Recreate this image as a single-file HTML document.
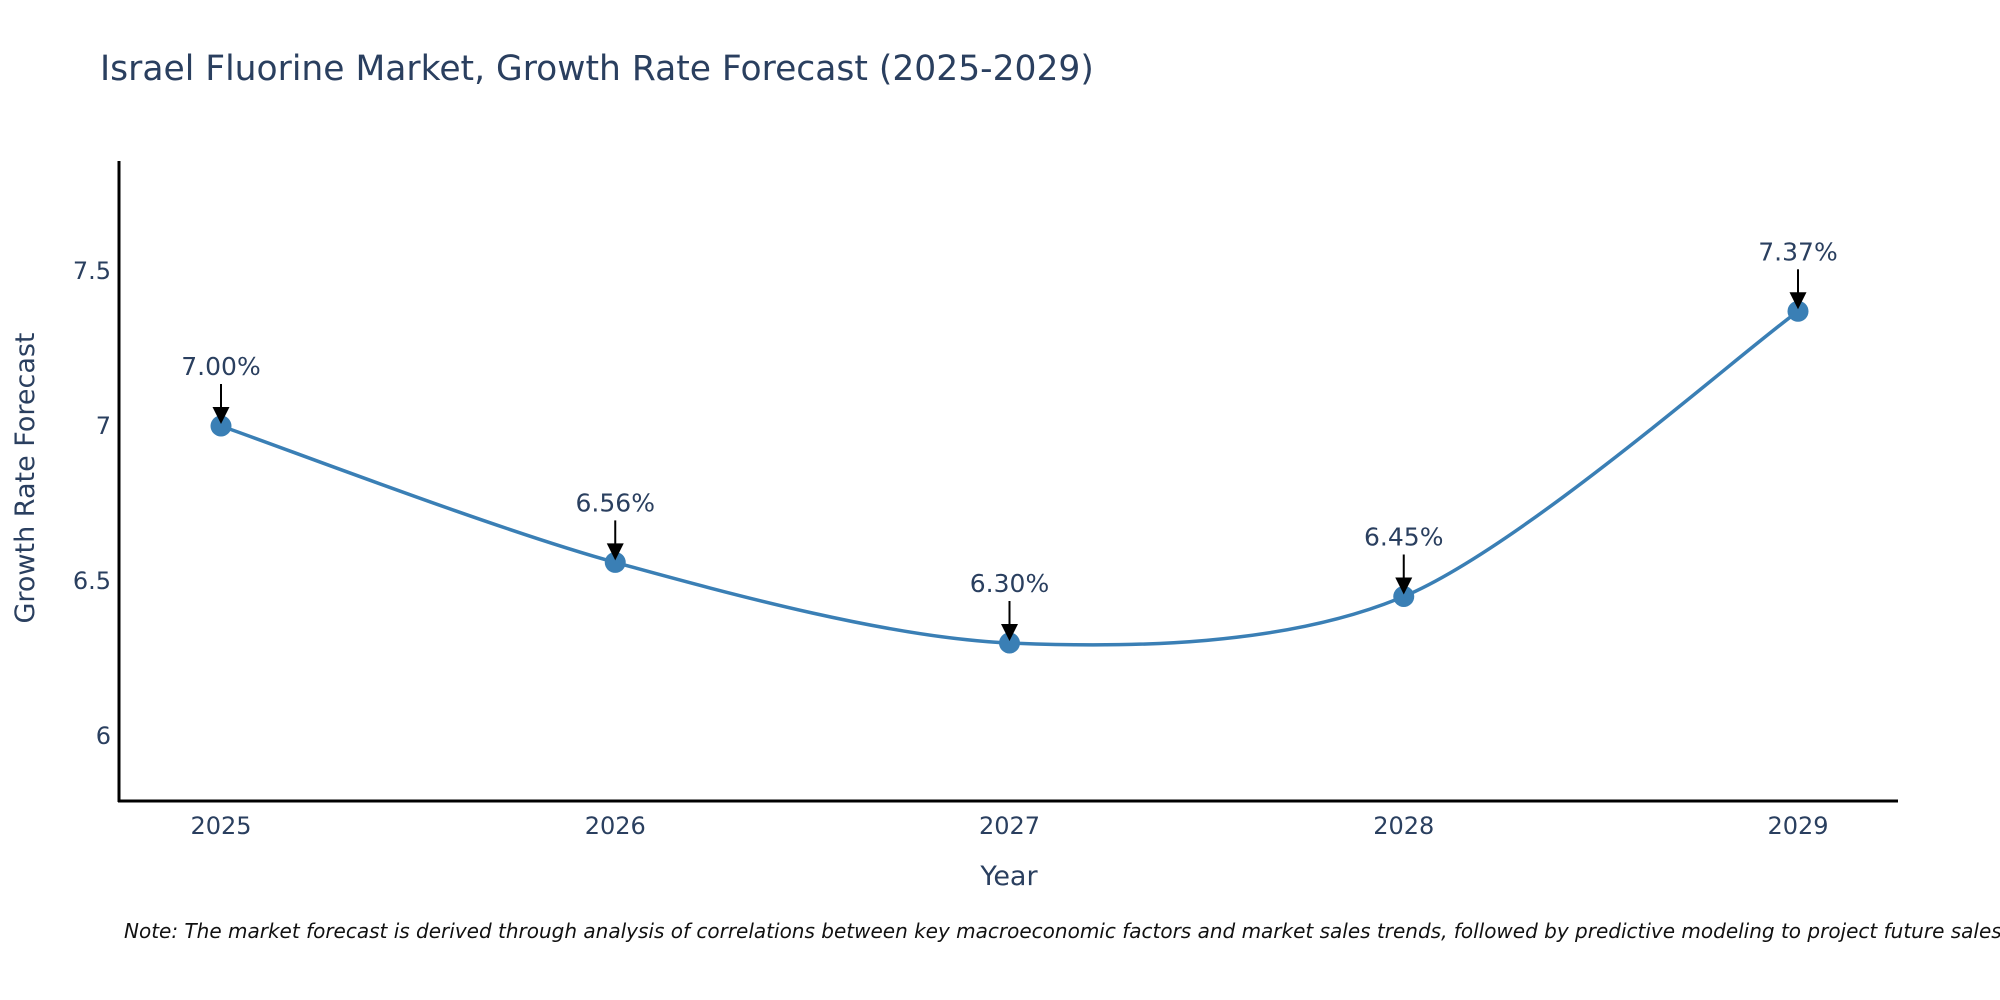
<!DOCTYPE html>
<html><head><meta charset="utf-8"><style>
html,body{margin:0;padding:0;background:#fff;width:2000px;height:1000px;overflow:hidden}
text{font-family:"DejaVu Sans","Liberation Sans",sans-serif;fill:#2a3f5f}
</style></head><body>
<svg id="chart" width="2000" height="1000" xmlns="http://www.w3.org/2000/svg">
<text x="100" y="80" font-size="34.5">Israel Fluorine Market, Growth Rate Forecast (2025-2029)</text>
<g id="yticks"></g>
<g id="xticks"></g>
<line x1="119" y1="161" x2="119" y2="802" stroke="#000" stroke-width="3"/>
<line x1="118" y1="801" x2="1898" y2="801" stroke="#000" stroke-width="3"/>
<path id="series" fill="none" stroke="#3a7fb5" stroke-width="3.5"/>
<g id="points"></g>
<g id="annots"></g>
<text x="1009" y="885" font-size="27" text-anchor="middle">Year</text>
<text transform="translate(34,478) rotate(-90)" font-size="27" text-anchor="middle">Growth Rate Forecast</text>
<text x="124" y="938" font-size="20" font-style="italic" style="fill:#111">Note: The market forecast is derived through analysis of correlations between key macroeconomic factors and market sales trends, followed by predictive modeling to project future sales.</text>
</svg>
<script>
const years = [2025, 2026, 2027, 2028, 2029];
const rates = [7.00, 6.56, 6.30, 6.45, 7.37];
const labels = ["7.00%", "6.56%", "6.30%", "6.45%", "7.37%"];
const yTicks = [6, 6.5, 7, 7.5];
const yTickLabels = ["6", "6.5", "7", "7.5"];

const NS = "http://www.w3.org/2000/svg";
const x = v => 221 + (v - 2025) * 394.25;
const y = v => 736 - (v - 6) * 310;
function mk(tag, attrs, parent, txt) {
  const e = document.createElementNS(NS, tag);
  for (const k in attrs) e.setAttribute(k, attrs[k]);
  if (txt !== undefined) e.textContent = txt;
  parent.appendChild(e);
  return e;
}
const yg = document.getElementById('yticks');
yTicks.forEach((t, i) => {
  const e = mk('text', {x: 111, y: y(t) + 8, 'font-size': 24, 'text-anchor': 'end'}, yg, yTickLabels[i]);
  
  
});
const xg = document.getElementById('xticks');
years.forEach(yr => {
  const e = mk('text', {x: x(yr), y: 834, 'font-size': 24, 'text-anchor': 'middle'}, xg, String(yr));
  
  
});
const pts = years.map((yr, i) => [x(yr), y(rates[i])]);
let d = `M${pts[0][0]},${pts[0][1]}`;
const s = 0.15;
for (let i = 0; i < pts.length - 1; i++) {
  const p0 = pts[Math.max(i - 1, 0)], p1 = pts[i], p2 = pts[i + 1], p3 = pts[Math.min(i + 2, pts.length - 1)];
  const c1 = [p1[0] + (p2[0] - p0[0]) * s, p1[1] + (p2[1] - p0[1]) * s];
  const c2 = [p2[0] - (p3[0] - p1[0]) * s, p2[1] - (p3[1] - p1[1]) * s];
  d += ` C${c1[0]},${c1[1]} ${c2[0]},${c2[1]} ${p2[0]},${p2[1]}`;
}
document.getElementById('series').setAttribute('d', d);
const pg = document.getElementById('points');
const ag = document.getElementById('annots');
pts.forEach((p, i) => {
  const c = mk('circle', {cx: p[0], cy: p[1], r: 10.5, fill: '#3a7fb5'}, pg);
  
  
  const l = mk('line', {x1: p[0], y1: p[1] - 42, x2: p[0], y2: p[1] - 16, stroke: '#000', 'stroke-width': 2}, ag);
  
  
  const h = mk('polygon', {points: `${p[0]-8.5},${p[1]-19} ${p[0]+8.5},${p[1]-19} ${p[0]},${p[1]-2}`, fill: '#000'}, ag);
  
  
  const t = mk('text', {x: p[0], y: p[1] - 51, 'font-size': 25, 'text-anchor': 'middle'}, ag, labels[i]);
  
  
});
</script>
</body></html>
